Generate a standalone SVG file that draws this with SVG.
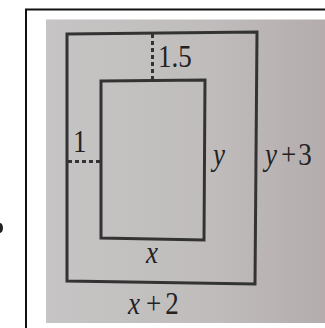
<svg xmlns="http://www.w3.org/2000/svg" width="325" height="328" viewBox="0 0 325 328">
<defs>
<linearGradient id="paper" x1="0" y1="0" x2="1" y2="0">
<stop offset="0" stop-color="#c6c4c4"/>
<stop offset="0.6" stop-color="#c0bcbc"/>
<stop offset="1" stop-color="#b4acad"/>
</linearGradient>
<style>
.frame{stroke:#111;stroke-width:2;fill:none}
.box{fill:none;stroke:#333;stroke-width:3;stroke-linejoin:miter}
.dash{stroke:#333;stroke-width:3;stroke-dasharray:4 3;fill:none}
.lbl{font-family:'Liberation Serif', 'Times New Roman', serif;font-size:27px;fill:#222}
.it{font-style:italic}
</style>
</defs>
<rect x="0" y="0" width="325" height="328" fill="#ffffff"/>
<ellipse cx="0" cy="228" rx="3" ry="5" fill="#222"/>
<g id="frame">
<line class="frame" x1="25" y1="9.5" x2="325" y2="9.5"/>
<line class="frame" x1="26" y1="9" x2="26" y2="328"/>
</g>
<rect x="46" y="19.5" width="279" height="303.5" fill="url(#paper)"/>
<g id="outer">
<path class="box" d="M67,34 L257,32 L255,284 L67,281 Z"/>
</g>
<g id="inner">
<path class="box" d="M101,81 L205,80 L204,240 L101,238 Z"/>
</g>
<g id="connectors">
<line class="dash" x1="152.5" y1="34" x2="152.5" y2="80"/>
<line class="dash" x1="68" y1="161.5" x2="100" y2="161.5"/>
</g>
<g id="labels">
<text class="lbl" transform="translate(158,67) scale(1,1.15)">1.5</text>
<text class="lbl" transform="translate(73,152) scale(1,1.15)">1</text>
<text class="lbl it" transform="translate(213,165) scale(1,1.15)">y</text>
<text class="lbl" transform="translate(265,165) scale(1,1.15)"><tspan class="it">y</tspan><tspan dx="4">+</tspan><tspan dx="2">3</tspan></text>
<text class="lbl it" transform="translate(146,263) scale(1,1.15)">x</text>
<text class="lbl" transform="translate(128,314) scale(1,1.15)"><tspan class="it">x</tspan><tspan dx="6">+</tspan><tspan dx="4">2</tspan></text>
</g>
</svg>
